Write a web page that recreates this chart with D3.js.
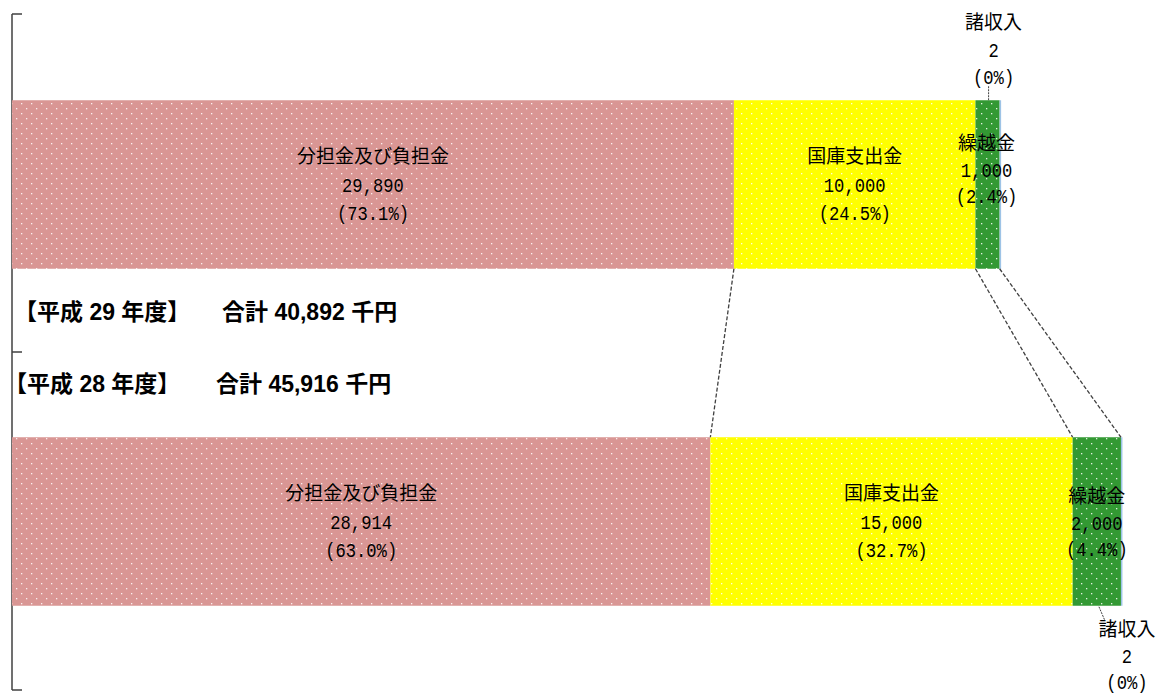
<!DOCTYPE html>
<html><head><meta charset="utf-8">
<script src="https://cdn.jsdelivr.net/npm/d3@7"></script>
<style>
html,body{margin:0;padding:0;background:#fff;}
svg{display:block;}
.lbl{font-family:"Noto Sans CJK JP","Noto Sans",sans-serif;font-size:19px;fill:#000;}
.num{font-family:"Liberation Mono","DejaVu Sans Mono",monospace;font-size:21px;fill:#000;}
.head{font-family:"Liberation Sans","Noto Sans CJK JP",sans-serif;font-size:23px;font-weight:bold;fill:#000;}
</style></head>
<body>
<svg id="c" width="1160" height="695"></svg>
<script>
const categories = ['分担金及び負担金','国庫支出金','繰越金','諸収入'];
const years = ['平成29年度','平成28年度'];
const headYears = ['29','28'];
const totals = [40892, 45916];
const values29 = [29890, 10000, 1000, 2];
const values28 = [28914, 15000, 2000, 2];
const pct29 = ['73.1%','24.5%','2.4%','0%'];
const pct28 = ['63.0%','32.7%','4.4%','0%'];
const colors = ['#D99694','#FFFF00','#339933','#9DC3E6'];

(function(){
const svg = d3.select('#c');
const x = d3.scaleLinear().domain([0, d3.max(totals)]).range([12, 1121]);
const y = d3.scaleBand().domain(years).range([16, 690]).paddingInner(0.5).paddingOuter(0.25);

// patterns
const defs = svg.append('defs');
colors.forEach((c,i)=>{
  const p = defs.append('pattern').attr('id','pat'+i).attr('patternUnits','userSpaceOnUse')
    .attr('width',10).attr('height',10);
  p.append('rect').attr('width',10).attr('height',10).attr('fill',c);
  if(i<3){
    p.append('rect').attr('x',1).attr('y',3).attr('width',1.3).attr('height',1.3).attr('fill','#fff').attr('opacity',0.85);
    p.append('rect').attr('x',6).attr('y',8).attr('width',1.3).attr('height',1.3).attr('fill','#fff').attr('opacity',0.85);
  }
});

const series = [values29, values28];
const pcts = [pct29, pct28];
const stacked = series.map((vals, si) => {
  let acc = 0;
  return vals.map((v, ci) => { const d = {year: years[si], cat: categories[ci], ci, v, x0: acc, x1: acc + v, pct: pcts[si][ci]}; acc += v; return d; });
});

// axis
const axisG = svg.append('g');
const [r0, r1] = y.range();
axisG.append('line').attr('x1', x(0)).attr('x2', x(0)).attr('y1', r0-2).attr('y2', r1).attr('stroke','#404040').attr('stroke-width',1.5);
[r0-2, (r0-2 + r1)/2, r1].forEach(t => {
  axisG.append('line').attr('x1', x(0)).attr('x2', x(0)+10).attr('y1', t).attr('y2', t).attr('stroke','#404040').attr('stroke-width',1.5);
});

// bars
stacked.forEach(row => {
  svg.append('g').selectAll('rect').data(row).join('rect')
    .attr('x', d => x(d.x0))
    .attr('y', d => y(d.year))
    .attr('width', d => Math.max(1.5, x(d.x1) - x(d.x0)))
    .attr('height', y.bandwidth())
    .attr('fill', d => 'url(#pat' + d.ci + ')');
});

// connectors (series lines)
const tp = stacked[0], bt = stacked[1];
[0,1,2].forEach(ci => {
  svg.append('line')
    .attr('x1', x(tp[ci].x1)).attr('y1', y(years[0]) + y.bandwidth())
    .attr('x2', x(bt[ci].x1)).attr('y2', y(years[1]))
    .attr('stroke','#404040').attr('stroke-width',1.3).attr('stroke-dasharray','4,2');
});

// labels
const lh = 28;
function label(cx, cy, d, gap){
  const g = svg.append('g');
  const lines = [d.cat, d3.format(',')(d.v), '(' + d.pct + ')'];
  lines.forEach((s,i)=>{
    const t = g.append('text').attr('text-anchor','middle')
      .attr('x', cx).attr('y', cy + (i-1)*gap).attr('dy','0.35em')
      .attr('class', i===0 ? 'lbl' : 'num').text(s);
    if(i>0){ t.attr('textLength', s.length*10.3).attr('lengthAdjust','spacingAndGlyphs'); }
  });
}
stacked.forEach((row) => {
  const cy = y(row[0].year) + y.bandwidth()/2;
  [0,1].forEach(ci => label((x(row[ci].x0)+x(row[ci].x1))/2, cy, row[ci], lh));
});
// 繰越金
label((x(tp[2].x0)+x(tp[2].x1))/2 - 1, y(years[0]) + y.bandwidth()/2 - 15, tp[2], 26.5);
label((x(bt[2].x0)+x(bt[2].x1))/2, y(years[1]) + y.bandwidth()/2 + 1, bt[2], 26);
// 諸収入
label(x(tp[3].x0) - 6, y(years[0]) - 51, tp[3], 27);
label(x(bt[3].x0) + 6, y(years[1]) + y.bandwidth() + 50, bt[3], 26);
// leader lines
svg.append('line').attr('x1', x(tp[3].x0)-11).attr('x2', x(tp[3].x0)-11)
  .attr('y1', y(years[0]) - 14).attr('y2', y(years[0]))
  .attr('stroke','#404040').attr('stroke-width',1).attr('stroke-dasharray','2,1');
svg.append('line').attr('x1', x(bt[3].x0)-22).attr('x2', x(bt[3].x0)-16)
  .attr('y1', y(years[1]) + y.bandwidth() + 1).attr('y2', y(years[1]) + y.bandwidth() + 15)
  .attr('stroke','#404040').attr('stroke-width',1).attr('stroke-dasharray','2,1');

// headings
const headY = [312, 384];
const headX = [[14, 222],[4, 216]];
headYears.forEach((yy, i) => {
  const t = svg.append('text').attr('class','head').attr('y', headY[i]).attr('dy','0.35em');
  t.append('tspan').attr('x', headX[i][0]).text('【平成 ' + yy + ' 年度】');
  t.append('tspan').attr('x', headX[i][1]).text('合計 ' + d3.format(',')(totals[i]) + ' 千円');
});
})();
</script>
</body></html>
